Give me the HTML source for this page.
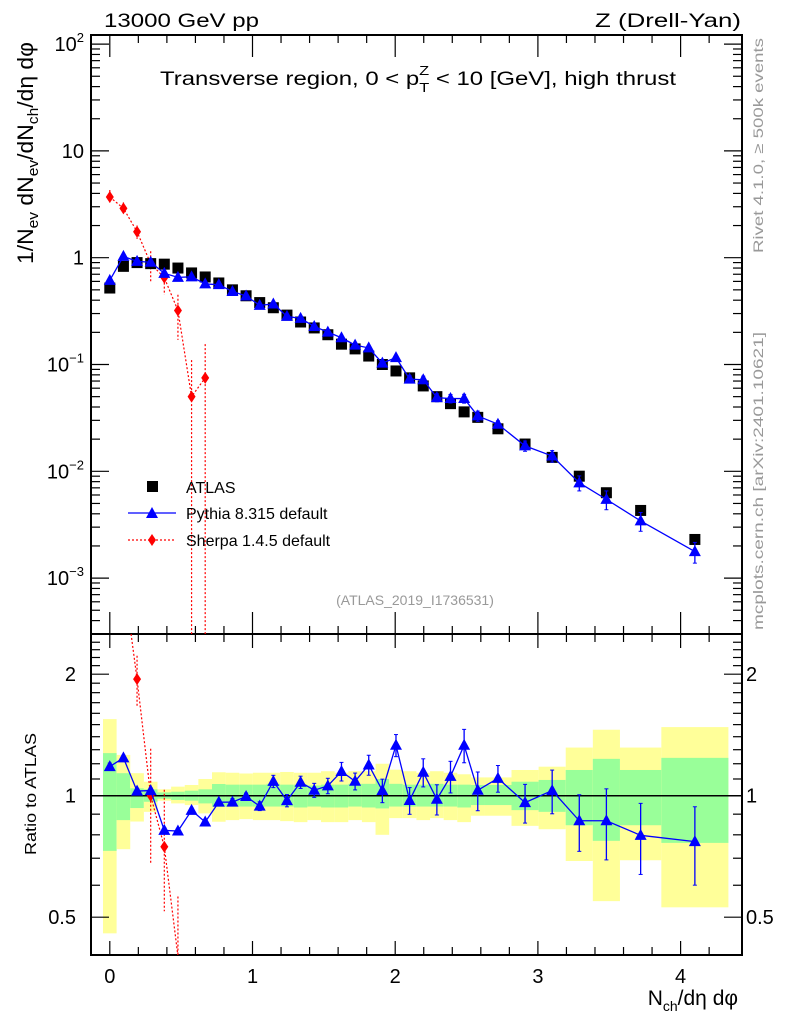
<!DOCTYPE html>
<html><head><meta charset="utf-8">
<style>
html,body{margin:0;padding:0;background:#fff;overflow:hidden;width:786px;height:1024px;position:relative;}
svg{position:absolute;left:0;top:0;display:block;font-family:"Liberation Sans",Arial,sans-serif;overflow:hidden;}
</style></head>
<body>
<svg id="c" width="786" height="1024" viewBox="0 0 786 1024" xmlns="http://www.w3.org/2000/svg">
<rect x="0" y="0" width="786" height="1024" fill="#fff"/>
<g id="bands"></g>
<g id="axes"></g>
<g id="marks"></g>
<text x="104" y="27" font-size="19" textLength="155" lengthAdjust="spacingAndGlyphs">13000 GeV pp</text>
<text x="741" y="27" font-size="19" text-anchor="end" textLength="146" lengthAdjust="spacingAndGlyphs">Z (Drell-Yan)</text>
<text x="160" y="85" font-size="19" textLength="516" lengthAdjust="spacingAndGlyphs">Transverse region, 0 &lt; p<tspan font-size="13" dy="7">T</tspan><tspan font-size="13" dx="-8" dy="-17">Z</tspan><tspan dy="10"> &lt; 10 [GeV], high thrust</tspan></text>
<text transform="translate(33,264) rotate(-90)" font-size="22" textLength="222" lengthAdjust="spacingAndGlyphs">1/N<tspan font-size="15" dy="5">ev</tspan><tspan dy="-5"> dN</tspan><tspan font-size="15" dy="5">ev</tspan><tspan dy="-5">/dN</tspan><tspan font-size="15" dy="5">ch</tspan><tspan dy="-5">/dη dφ</tspan></text>
<text transform="translate(763,253) rotate(-90)" font-size="14" fill="#999" textLength="215" lengthAdjust="spacingAndGlyphs">Rivet 4.1.0, ≥ 500k events</text>
<text transform="translate(763,630) rotate(-90)" font-size="14" fill="#999" textLength="298" lengthAdjust="spacingAndGlyphs">mcplots.cern.ch [arXiv:2401.10621]</text>
<text x="415" y="605" font-size="14" fill="#999" text-anchor="middle">(ATLAS_2019_I1736531)</text>
<text transform="translate(36,855) rotate(-90)" font-size="16" textLength="122" lengthAdjust="spacingAndGlyphs">Ratio to ATLAS</text>
<text x="738" y="1005" font-size="21" text-anchor="end">N<tspan font-size="14" dy="6">ch</tspan><tspan dy="-6">/dη dφ</tspan></text>
<g>
<rect x="147" y="481" width="11" height="11" fill="#000"/>
<text x="186" y="493" font-size="16">ATLAS</text>
<line x1="128" y1="513" x2="176" y2="513" stroke="#00f" stroke-width="1.3"/>
<polygon points="152,507 158,518 146,518" fill="#00f"/>
<text x="186" y="519" font-size="16">Pythia 8.315 default</text>
<line x1="128" y1="540" x2="176" y2="540" stroke="#f00" stroke-width="1.2" stroke-dasharray="2,2"/>
<polygon points="152,534 156,540 152,546 148,540" fill="#f00"/>
<text x="186" y="546" font-size="16">Sherpa 1.4.5 default</text>
</g>
</svg>
<script>
const xVals=[0,0.0955,0.191,0.2865,0.382,0.4775,0.573,0.6685,0.764,0.8595,0.955,1.0505,1.146,1.2415,1.337,1.4325,1.528,1.6235,1.719,1.8145,1.91,2.0055,2.101,2.1965,2.292,2.3875,2.483,2.5785,2.72,2.91,3.1,3.29,3.48,3.72,4.1];
const binLo=[-0.0477,0.0477,0.1432,0.2387,0.3342,0.4297,0.5252,0.6207,0.7162,0.8117,0.9072,1.0027,1.0982,1.1937,1.2892,1.3847,1.4802,1.5757,1.6712,1.7667,1.8622,1.9577,2.0532,2.1487,2.2442,2.3397,2.4352,2.5307,2.626,2.815,3.005,3.195,3.385,3.575,3.865];
const binHi=[0.0477,0.1432,0.2387,0.3342,0.4297,0.5252,0.6207,0.7162,0.8117,0.9072,1.0027,1.0982,1.1937,1.2892,1.3847,1.4802,1.5757,1.6712,1.7667,1.8622,1.9577,2.0532,2.1487,2.2442,2.3397,2.4352,2.5307,2.626,2.815,3.005,3.195,3.385,3.575,3.865,4.335];
const atlas=[0.52,0.83,0.9,0.88,0.87,0.8,0.72,0.66,0.58,0.5,0.44,0.38,0.34,0.29,0.25,0.22,0.19,0.155,0.14,0.12,0.1,0.087,0.075,0.063,0.05,0.043,0.036,0.032,0.025,0.018,0.0135,0.009,0.0063,0.0043,0.0023];
const yellowUp=[1.548,1.262,1.137,1.083,1.037,1.053,1.063,1.1,1.143,1.14,1.135,1.14,1.14,1.145,1.14,1.14,1.15,1.14,1.15,1.15,1.2,1.16,1.15,1.14,1.15,1.14,1.13,1.11,1.11,1.158,1.18,1.316,1.457,1.316,1.479];
const yellowDn=[0.456,0.737,0.863,0.912,0.972,0.957,0.948,0.904,0.862,0.87,0.875,0.87,0.87,0.865,0.86,0.87,0.86,0.86,0.87,0.86,0.8,0.88,0.88,0.87,0.88,0.87,0.86,0.892,0.892,0.842,0.826,0.689,0.548,0.692,0.529];
const greenUp=[1.275,1.137,1.043,1.037,1.019,1.023,1.029,1.037,1.069,1.065,1.065,1.065,1.07,1.065,1.065,1.06,1.065,1.065,1.07,1.07,1.1,1.07,1.065,1.065,1.07,1.065,1.065,1.063,1.063,1.083,1.094,1.158,1.234,1.158,1.241];
const greenDn=[0.73,0.87,0.932,0.966,0.983,0.976,0.972,0.957,0.939,0.94,0.94,0.94,0.94,0.94,0.935,0.94,0.935,0.935,0.94,0.935,0.93,0.94,0.94,0.94,0.94,0.94,0.935,0.948,0.948,0.921,0.912,0.845,0.773,0.845,0.764];
const pythia=[0.614,1.03,0.924,0.906,0.714,0.654,0.662,0.568,0.559,0.482,0.438,0.358,0.369,0.282,0.27,0.227,0.201,0.178,0.152,0.143,0.103,0.116,0.073,0.072,0.049,0.048,0.048,0.033,0.0276,0.0173,0.0139,0.0078,0.00546,0.00343,0.00177];
const pythiaErr=[0.02,0.015,0.015,0.015,0.015,0.015,0.015,0.015,0.015,0.02,0.02,0.025,0.035,0.035,0.035,0.04,0.044,0.053,0.048,0.057,0.067,0.063,0.076,0.08,0.086,0.09,0.095,0.11,0.076,0.11,0.124,0.16,0.2,0.2,0.22];
const sherpaX=[0,0.0955,0.191,0.2865,0.382,0.4775,0.573,0.6685];
const sherpa=[3.7,2.9,1.75,0.88,0.65,0.32,0.05,0.075];
const sherpaUp=[4.3,3.3,2.0,1.15,0.9,0.45,0.11,0.155];
const sherpaDn=[3.3,2.6,1.5,0.6,0.45,0.17,0.0001,0.0001];
const xTickLabels=["0","1","2","3","4"];
const mainTickExp=[2,1,0,-1,-2,-3];
const ratioTickVals=[0.5,1,2];

const NS="http://www.w3.org/2000/svg";
const L=91,R=742,T1=35,B1=634,T2=634,B2=955;
const X=v=>109.8+v*142.7;
const Y=v=>257.7-Math.log10(v)*106.8;
const RY=v=>795.7-Math.log2(v)*121.5;
function mk(p,tag,at){const e=document.createElementNS(NS,tag);for(const k in at)e.setAttribute(k,at[k]);p.appendChild(e);return e;}
// clip a polyline to y-range [ymin,ymax]: returns list of points (cut at first exit below / first entry from above)
function clipPts(pts,ymin,ymax){
  const out=[];
  for(let i=0;i<pts.length;i++){
    const [x,y]=pts[i];
    if(i>0){const [px,py]=pts[i-1];
      if(py<ymin&&y>=ymin){const t=(ymin-py)/(y-py);out.length=0;out.push([px+t*(x-px),ymin]);}
      if(py<=ymax&&y>ymax){const t=(ymax-py)/(y-py);out.push([px+t*(x-px),ymax]);break;}
    }
    if(y>=ymin&&y<=ymax)out.push([x,y]);
  }
  return out.map(p=>p[0]+','+p[1]).join(' ');
}
const gA=document.getElementById('axes'),gB=document.getElementById('bands'),gM=document.getElementById('marks');

const defs=mk(document.getElementById('c'),'defs',{});
const c1=mk(defs,'clipPath',{id:'cm'});mk(c1,'rect',{x:L,y:T1,width:R-L,height:B1-T1});
const c2=mk(defs,'clipPath',{id:'cr'});mk(c2,'rect',{x:L,y:T2,width:R-L,height:B2-T2});
gB.setAttribute('clip-path','url(#cr)');

for(let i=0;i<xVals.length;i++){
  let r=mk(gB,'rect',{x:X(binLo[i]),y:Math.max(RY(yellowUp[i]),T2),width:X(binHi[i])-X(binLo[i]),height:Math.min(RY(yellowDn[i]),B2)-Math.max(RY(yellowUp[i]),T2),fill:'#ffff99'});
  
  
  let g=mk(gB,'rect',{x:X(binLo[i]),y:RY(greenUp[i]),width:X(binHi[i])-X(binLo[i]),height:RY(greenDn[i])-RY(greenUp[i]),fill:'#99ff99'});
  
  
}

for(const [t,b] of [[T1,B1],[T2,B2]]){
  const f=mk(gA,'rect',{x:L,y:t,width:R-L,height:b-t,fill:'none',stroke:'#000','stroke-width':2});
  
  
  for(let v=0;v<=4.4;v+=0.2){
    const vv=Math.round(v*10)/10;const maj=Math.abs(vv-Math.round(vv))<1e-6;const len=maj?(t===T1?22:14):8;
    mk(gA,'line',{x1:X(vv),x2:X(vv),y1:b,y2:b-len,stroke:'#000','stroke-width':1.2});
    mk(gA,'line',{x1:X(vv),x2:X(vv),y1:t,y2:t+len,stroke:'#000','stroke-width':1.2});
  }
}
xTickLabels.forEach((s,i)=>{const t=mk(gA,'text',{x:X(i),y:983,'font-size':20,'text-anchor':'middle'});t.textContent=s;
 
 });
for(let e=-4;e<=2;e++){for(let m=1;m<=9;m++){const v=m*Math.pow(10,e);const y=Y(v);if(y<T1||y>B1)continue;const len=m===1?18:9;
 mk(gA,'line',{x1:L,x2:L+len,y1:y,y2:y,stroke:'#000','stroke-width':1.2});mk(gA,'line',{x1:R,x2:R-len,y1:y,y2:y,stroke:'#000','stroke-width':1.2});}}
mainTickExp.forEach(e=>{const y=Y(Math.pow(10,e))+7;const t=mk(gA,'text',{x:84,y:y,'font-size':20,'text-anchor':'end'});
 if(e===0)t.textContent='1';else if(e===1)t.textContent='10';else{t.textContent='10';const s=mk(t,'tspan',{'font-size':13,dy:-9});s.textContent=String(e).replace('-','−');}
 
 });
for(let v=0.4;v<=2.5;v+=0.1){const vv=Math.round(v*10)/10;const y=RY(vv);if(y<T2||y>B2)continue;const maj=ratioTickVals.includes(vv);const len=maj?18:9;
 mk(gA,'line',{x1:L,x2:L+len,y1:y,y2:y,stroke:'#000','stroke-width':1.2});mk(gA,'line',{x1:R,x2:R-len,y1:y,y2:y,stroke:'#000','stroke-width':1.2});}
ratioTickVals.forEach(v=>{for(const [x,a] of [[76,'end'],[746,'start']]){const t=mk(gA,'text',{x:x,y:RY(v)+7,'font-size':20,'text-anchor':a});t.textContent=String(v);
 
 }});
const one=mk(gA,'line',{x1:L,x2:R,y1:RY(1),y2:RY(1),stroke:'#000','stroke-width':1.5});



const gm=mk(gM,'g',{'clip-path':'url(#cm)'});
const gr=mk(gM,'g',{'clip-path':'url(#cr)'});
{const pts=clipPts(sherpaX.map((x,i)=>[X(x),Y(sherpa[i])]),T1,B1);
 const pl=mk(gm,'polyline',{points:pts,fill:'none',stroke:'#f00','stroke-width':1.2,'stroke-dasharray':'2,2'});
 
 
 sherpaX.forEach((x,i)=>{mk(gm,'line',{x1:X(x),x2:X(x),y1:Y(sherpaUp[i]),y2:Math.min(Y(sherpaDn[i]),B1),stroke:'#f00','stroke-width':1.2,'stroke-dasharray':'2,2'});
  const cx=X(x),cy=Y(sherpa[i]);if(cy>B1)return;const d=mk(gm,'polygon',{points:`${cx},${cy-6} ${cx+4},${cy} ${cx},${cy+6} ${cx-4},${cy}`,fill:'#f00'});
  
  });}
xVals.forEach((x,i)=>{const s=mk(gm,'rect',{x:X(x)-5.5,y:Y(atlas[i])-5.5,width:11,height:11,fill:'#000'});
 
 });
{const pl=mk(gm,'polyline',{points:xVals.map((x,i)=>X(x)+','+Y(pythia[i])).join(' '),fill:'none',stroke:'#00f','stroke-width':1.3});
 
 
 xVals.forEach((x,i)=>{const cx=X(x),cy=Y(pythia[i]);
  const up=Y(pythia[i]*(1+pythiaErr[i])),dn=Y(pythia[i]*(1-pythiaErr[i]));
  if(dn-up>6){mk(gm,'line',{x1:cx,x2:cx,y1:up,y2:dn,stroke:'#00f','stroke-width':1.3});mk(gm,'line',{x1:cx-2,x2:cx+2,y1:up,y2:up,stroke:'#00f'});mk(gm,'line',{x1:cx-2,x2:cx+2,y1:dn,y2:dn,stroke:'#00f'});}
  const p=mk(gm,'polygon',{points:`${cx},${cy-6.5} ${cx+6},${cy+4.5} ${cx-6},${cy+4.5}`,fill:'#00f'});
  
  });}
{const rs=sherpa.map((v,i)=>v/atlas[i]);
 const pts=clipPts(sherpaX.map((x,i)=>[X(x),RY(rs[i])]),T2,B2);
 const pl=mk(gr,'polyline',{points:pts,fill:'none',stroke:'#f00','stroke-width':1.2,'stroke-dasharray':'2,2'});
 
 
 sherpaX.forEach((x,i)=>{const y1=Math.max(RY(sherpaUp[i]/atlas[i]),T2),y2=Math.min(RY(sherpaDn[i]/atlas[i]),B2);
  if(y1<y2)mk(gr,'line',{x1:X(x),x2:X(x),y1:y1,y2:y2,stroke:'#f00','stroke-width':1.2,'stroke-dasharray':'2,2'});
  const cx=X(x),cy=RY(rs[i]);if(cy<T2||cy>B2)return;const d=mk(gr,'polygon',{points:`${cx},${cy-6} ${cx+4},${cy} ${cx},${cy+6} ${cx-4},${cy}`,fill:'#f00'});
  
  });}
{const rp=pythia.map((v,i)=>v/atlas[i]);
 const pl=mk(gr,'polyline',{points:xVals.map((x,i)=>X(x)+','+RY(rp[i])).join(' '),fill:'none',stroke:'#00f','stroke-width':1.3});
 
 
 xVals.forEach((x,i)=>{const cx=X(x),cy=RY(rp[i]);
  const up=RY(rp[i]*(1+pythiaErr[i])),dn=RY(rp[i]*(1-pythiaErr[i]));
  mk(gr,'line',{x1:cx,x2:cx,y1:up,y2:dn,stroke:'#00f','stroke-width':1.3});mk(gr,'line',{x1:cx-2,x2:cx+2,y1:up,y2:up,stroke:'#00f'});mk(gr,'line',{x1:cx-2,x2:cx+2,y1:dn,y2:dn,stroke:'#00f'});
  const p=mk(gr,'polygon',{points:`${cx},${cy-6.5} ${cx+6},${cy+4.5} ${cx-6},${cy+4.5}`,fill:'#00f'});
  
  });}
</script>
</body></html>
